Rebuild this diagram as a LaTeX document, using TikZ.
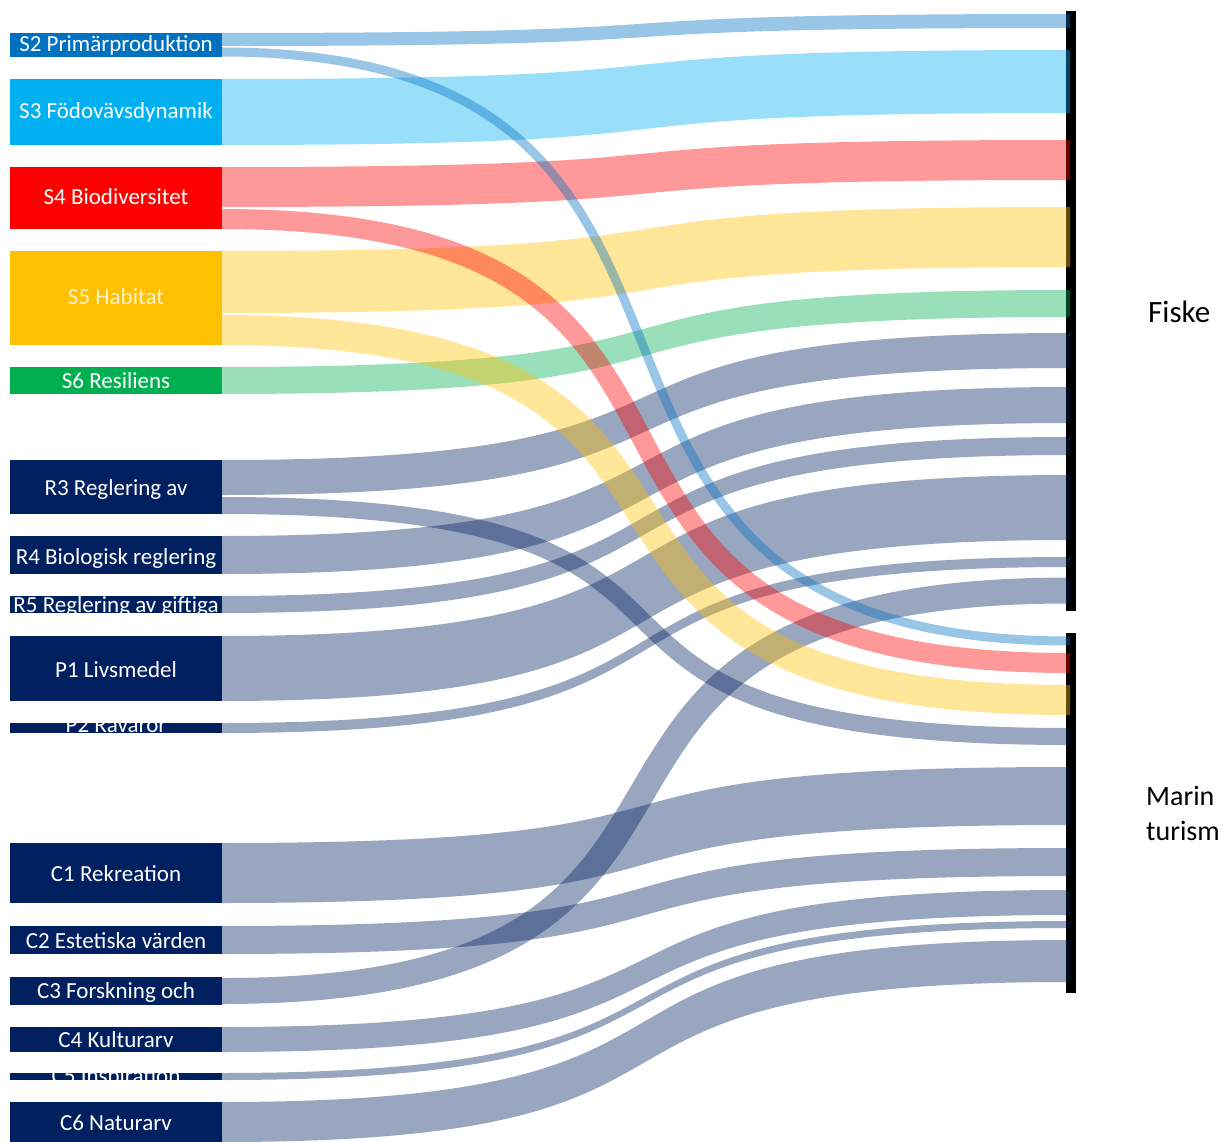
\documentclass[tikz,border=0pt]{standalone}
\usepackage{fontspec}
\setmainfont{Carlito}
\definecolor{cSb}{HTML}{0070C0}
\definecolor{cSc}{HTML}{00B0F0}
\definecolor{cSd}{HTML}{FF0000}
\definecolor{cSe}{HTML}{FFC000}
\definecolor{cSf}{HTML}{00B050}
\definecolor{cNavy}{HTML}{002060}
\definecolor{paleYellow}{HTML}{FFF2CC}
\def\xL{222}
\def\xR{1070}
\newcommand{\bandfill}[5]{%
  \fill[#1, opacity=0.4] (\xL,#2) .. controls (790,#2) and (500,#4) .. (\xR,#4)
     -- (\xR,#5) .. controls (500,#5) and (790,#3) .. (\xL,#3) -- cycle;}
\newcommand{\bandstroke}[4]{%
  \draw[#1, draw opacity=0.4, line width=#4pt] (\xL,#2) .. controls (830,#2) and (455,#3) .. (\xR,#3);}
\newcommand{\srcbox}[7]{%
  \node[srcbox, fill=#4, minimum height={#3pt-#2pt}] (#1) at (116,{(#2+#3)/2}) {};
  \begin{scope}
    \clip (10,#2) rectangle (222,#3);
    \node[lbl, text=#6, anchor=base] (#1-t) at (116,#7) {#5};
  \end{scope}}
\tikzset{
  srcbox/.style={draw=none, minimum width=212pt, inner sep=0pt, outer sep=0pt},
  lbl/.style={inner sep=0pt, font=\fontsize{23}{27}\selectfont},
  bar/.style={fill=black, draw=none, minimum width=10pt, inner sep=0pt, outer sep=0pt},
  tgt/.style={inner sep=0pt, text=black}
}
\begin{document}
\begin{tikzpicture}[x=1pt, y=-1pt]
\useasboundingbox (0,0) rectangle (1224,1142);
% target bars
\node[bar, minimum height=600pt] (fiske) at (1071,311) {};
\node[bar, minimum height=360pt] (marin) at (1071,813) {};
% bands to Fiske
\bandfill{cSb}{33}{46}{14}{28}
\bandfill{cSc}{79}{145}{50}{113}
\bandfill{cSd}{167}{207}{140}{180}
\bandfill{cSe}{251}{313}{207}{267}
\bandfill{cSf}{367}{394}{290}{317}
\bandfill{cNavy}{460}{495}{333}{368}
\bandfill{cNavy}{536}{574}{387}{423}
\bandfill{cNavy}{596}{613}{437}{455}
\bandfill{cNavy}{636}{701}{475}{540}
\bandfill{cNavy}{723}{733}{557}{567}
\bandstroke{cNavy}{991}{590.5}{26}
% bands to Marin turism
\bandstroke{cSb}{52}{641}{9}
\bandstroke{cSd}{219}{663}{20}
\bandstroke{cSe}{330}{700}{30}
\bandstroke{cNavy}{505.5}{736.5}{17}
\bandfill{cNavy}{843}{903}{767}{825}
\bandfill{cNavy}{926}{954}{848}{876}
\bandfill{cNavy}{1027}{1052}{890}{915}
\bandfill{cNavy}{1073}{1080}{921}{928}
\bandfill{cNavy}{1102}{1142}{940}{982}
% source boxes
\srcbox{s2}{33}{57}{cSb}{S2 Primärproduktion}{white}{52}
\srcbox{s3}{79}{145}{cSc}{S3 Födovävsdynamik}{white}{119}
\srcbox{s4}{167}{229}{cSd}{S4 Biodiversitet}{white}{205}
\srcbox{s5}{251}{345}{cSe}{S5 Habitat}{paleYellow}{305}
\srcbox{s6}{367}{394}{cSf}{S6 Resiliens}{white}{388}
\srcbox{r3}{460}{514}{cNavy}{R3 Reglering\ av}{white}{495}
\srcbox{r4}{536}{574}{cNavy}{R4 Biologisk reglering}{white}{564}
\srcbox{r5}{596}{613}{cNavy}{R5 Reglering av giftiga}{white}{612}
\srcbox{p1}{636}{701}{cNavy}{P1 Livsmedel}{white}{677}
\srcbox{p2}{723}{733}{cNavy}{P2 Råvaror}{white}{732}
\srcbox{c1}{843}{903}{cNavy}{C1 Rekreation}{white}{881}
\srcbox{c2}{926}{954}{cNavy}{C2 Estetiska värden}{white}{948}
\srcbox{c3}{977}{1005}{cNavy}{C3 Forskning och}{white}{998}
\srcbox{c4}{1027}{1052}{cNavy}{C4 Kulturarv}{white}{1047}
\srcbox{c5}{1073}{1080}{cNavy}{C5 Inspiration}{white}{1083}
\srcbox{c6}{1102}{1142}{cNavy}{C6 Naturarv}{white}{1130}
% target labels
\node[tgt, anchor=base west, font=\fontsize{31}{36}\selectfont] (fiskelbl) at (1148,323) {Fiske};
\node[tgt, anchor=north west, align=left, font=\fontsize{28}{35}\selectfont] (marinlbl) at (1146,786) {Marin\\turism};
\end{tikzpicture}
\end{document}
